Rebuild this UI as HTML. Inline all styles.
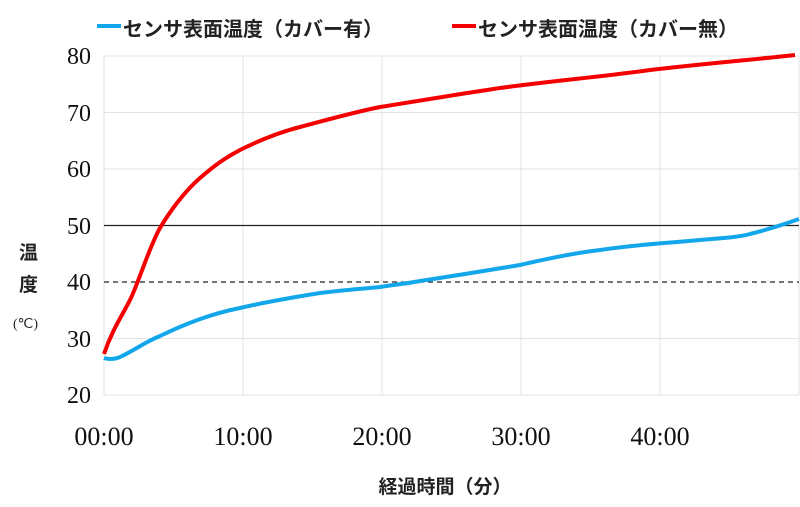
<!DOCTYPE html>
<html><head><meta charset="utf-8"><style>
body{margin:0;background:#fff;}
svg{display:block;}
.t{font-family:"Liberation Serif",serif;font-size:24px;fill:#111;}
.j{font-family:"Liberation Sans","Noto Sans CJK JP",sans-serif;font-weight:bold;fill:#222;}
</style></head><body>
<svg width="800" height="507" viewBox="0 0 800 507">
<g stroke="#e3e3e3" stroke-width="1">
<line x1="104" y1="56" x2="799" y2="56"/><line x1="104" y1="112.5" x2="799" y2="112.5"/>
<line x1="104" y1="169" x2="799" y2="169"/><line x1="104" y1="338.5" x2="799" y2="338.5"/>
<line x1="104" y1="395" x2="799" y2="395"/>
<line x1="104" y1="56" x2="104" y2="395"/><line x1="243" y1="56" x2="243" y2="395"/>
<line x1="382" y1="56" x2="382" y2="395"/><line x1="521" y1="56" x2="521" y2="395"/>
<line x1="660" y1="56" x2="660" y2="395"/><line x1="799" y1="56" x2="799" y2="395"/>
</g>
<line x1="104" y1="225.5" x2="799" y2="225.5" stroke="#222" stroke-width="1.3"/>
<line x1="104" y1="282" x2="799" y2="282" stroke="#222" stroke-width="1.3" stroke-dasharray="5,4"/>
<path d="M104,354 C112,330 122,316 130,300 C138,284 150,245 160,228 C170,211 185,191 200,178 C215,165 225,158 240,150 C260,140 280,132 300,127 C330,119 355,112 380,107 C430,99 460,94 500,88 C560,80 600,77 650,70 C710,63 750,60 795,55" fill="none" stroke="#f40000" stroke-width="4"/>
<path d="M104,358 C110,360 115,359 120,357 C135,350 145,342 160,336 C185,324 210,314 240,308 C270,301 295,297 320,293 C345,290 360,289 380,287 C400,284 410,283 420,281 C460,275 490,270 520,265 C550,258 575,253 600,250 C640,244 670,243 700,240 C725,238 740,237 750,234 C770,229 785,224 799,219" fill="none" stroke="#12a7ea" stroke-width="4"/>
<g class="t" text-anchor="end">
<text x="91" y="64">80</text><text x="91" y="121">70</text><text x="91" y="177">60</text>
<text x="91" y="234">50</text><text x="91" y="290">40</text><text x="91" y="347">30</text><text x="91" y="403">20</text>
</g>
<g class="t" text-anchor="middle" style="font-size:26px">
<text x="104" y="445">00:00</text><text x="243" y="445">10:00</text><text x="382" y="445">20:00</text>
<text x="521" y="445">30:00</text><text x="660" y="445">40:00</text>
</g>
<text class="j" x="19" y="259" font-size="19">温</text>
<text class="j" x="19" y="291" font-size="19">度</text>
<text x="13" y="328" font-family="Liberation Serif,serif" font-size="14" fill="#222">(℃)</text>
<text class="j" x="445" y="493" font-size="19" text-anchor="middle">経過時間（分）</text>
<line x1="97" y1="26" x2="121" y2="26" stroke="#12a7ea" stroke-width="4"/>
<text class="j" x="123" y="36" font-size="20">センサ表面温度（カバー有）</text>
<line x1="452" y1="26" x2="476" y2="26" stroke="#f40000" stroke-width="4"/>
<text class="j" x="478" y="36" font-size="20">センサ表面温度（カバー無）</text>
</svg>
</body></html>
